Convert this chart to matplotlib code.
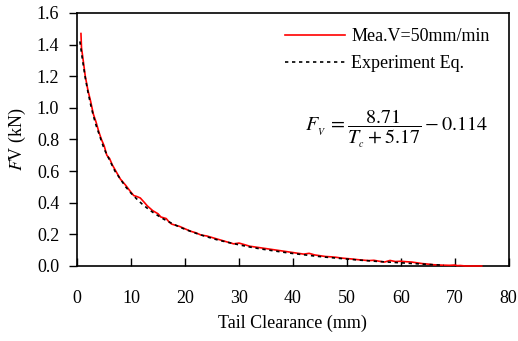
import matplotlib
matplotlib.use('Agg')
from matplotlib import pyplot as plt
import numpy as np

plt.rcParams['font.family'] = ['Liberation Serif', 'DejaVu Serif']
plt.rcParams['mathtext.fontset'] = 'stix'

mea_x = [0.7, 0.8, 1.0, 1.5, 2, 2.5, 3, 3.5, 4, 4.5, 5, 5.5, 6, 6.5, 7, 7.5, 8,
         9, 10, 10.5, 11, 11.7, 12.5, 13, 14, 15, 15.5, 16, 16.5, 17, 17.5, 18,
         19, 20, 21, 22, 23, 24, 25, 26, 27, 28, 29, 30, 31, 32, 33, 34, 35, 36,
         37, 38, 39, 40, 41, 42, 43, 44, 45, 46, 47, 48, 49, 50, 51, 52, 53, 54,
         55, 56, 57, 58, 59, 60, 61, 62, 63, 64, 65, 66, 67, 68, 69, 70, 70.5,
         71, 72, 75]
mea_y = [1.47, 1.38, 1.33, 1.20, 1.11, 1.04, 0.96, 0.91, 0.85, 0.80, 0.76, 0.70,
         0.68, 0.64, 0.61, 0.58, 0.55, 0.51, 0.465, 0.445, 0.44, 0.43, 0.40, 0.38,
         0.35, 0.33, 0.31, 0.305, 0.30, 0.28, 0.265, 0.26, 0.25, 0.235, 0.22,
         0.21, 0.195, 0.19, 0.18, 0.17, 0.16, 0.15, 0.14, 0.145, 0.135, 0.125,
         0.12, 0.115, 0.11, 0.105, 0.10, 0.095, 0.09, 0.085, 0.08, 0.075, 0.08,
         0.07, 0.065, 0.06, 0.058, 0.055, 0.05, 0.047, 0.044, 0.04, 0.037, 0.034,
         0.036, 0.03, 0.025, 0.035, 0.028, 0.03, 0.027, 0.025, 0.02, 0.015, 0.012,
         0.008, 0.006, 0.005, 0.004, 0.006, 0.002, 0.003, 0.0, 0.0]

# experiment equation curve values
eq_x = [0.5, 1, 1.5, 2, 2.5, 3, 3.5, 4, 4.5, 5, 6, 7, 8, 9, 10, 11, 12, 13, 14,
        15, 16, 17, 18, 19, 20, 22, 24, 26, 28, 30, 32, 34, 36, 38, 40, 42, 44,
        46, 48, 50, 52, 54, 56, 58, 60, 62, 64, 66, 68]
eq_y = [1.42, 1.30, 1.19, 1.10, 1.02, 0.95, 0.89, 0.84, 0.79, 0.74, 0.67, 0.60,
        0.55, 0.50, 0.46, 0.425, 0.393, 0.365, 0.34, 0.318, 0.297, 0.279, 0.262,
        0.246, 0.232, 0.207, 0.185, 0.165, 0.149, 0.134, 0.12, 0.108, 0.098,
        0.088, 0.079, 0.071, 0.063, 0.056, 0.05, 0.044, 0.038, 0.033, 0.028,
        0.024, 0.02, 0.016, 0.012, 0.008, 0.005]

fig = plt.figure(figsize=(5.18, 3.41), dpi=100)
ax = fig.add_axes([0.149, 0.22, 0.833, 0.742])

ax.plot(mea_x, mea_y, color='red', lw=1.2, label='Mea.V=50mm/min', zorder=3,
        clip_on=False)
ax.plot(eq_x, eq_y, color='black', lw=1.2, linestyle=(0, (2, 2.2)),
        label='Experiment Eq.', zorder=4)

ax.set_xlim(0, 80)
ax.set_ylim(0, 1.6)
ax.set_xticks(np.arange(0, 81, 10))
ax.set_yticks(np.arange(0, 1.61, 0.2))
ax.set_yticklabels(['%.1f' % v for v in np.arange(0, 1.61, 0.2)])
ax.tick_params(axis='x', direction='in', length=6, width=1, pad=17, labelsize=13)
ax.tick_params(axis='y', direction='out', length=6, width=1, pad=7, labelsize=13)
for s in ax.spines.values():
    s.set_linewidth(1.2)

ax.set_xlabel('Tail Clearance (mm)', fontsize=13, labelpad=6)
ax.set_ylabel(r'$F$V (kN)', fontsize=13, labelpad=6)

ax.legend(loc='upper right', frameon=False, fontsize=13, handlelength=3.3,
          handletextpad=0.35, labelspacing=0.55, borderaxespad=0.3,
          bbox_to_anchor=(0.985, 0.99))
ax.text(0.74, 0.545, r'$F_{_V}\, = \dfrac{8.71}{T_{_c} + 5.17} - 0.114$',
        transform=ax.transAxes, ha='center', va='center', fontsize=14.5)

fig.savefig('out.png', dpi=100)
